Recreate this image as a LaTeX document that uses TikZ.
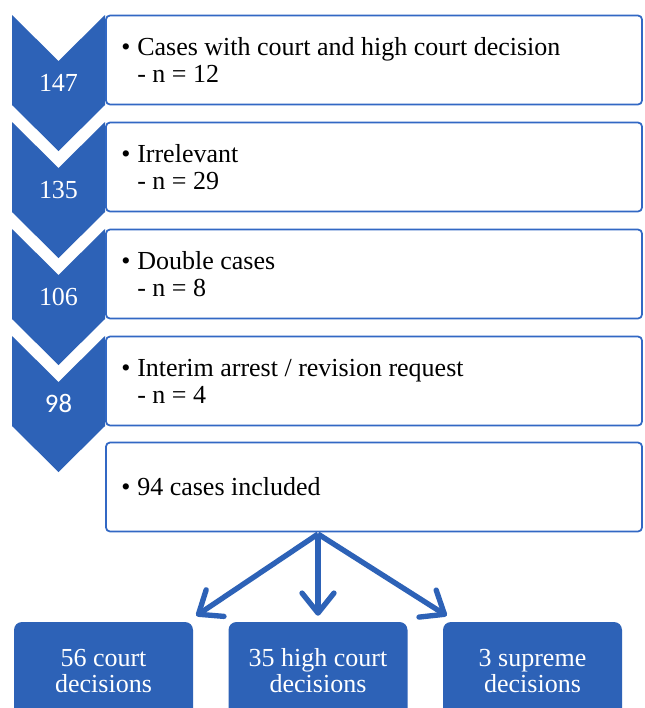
\documentclass[tikz,border=0pt]{standalone}
\usepackage{fontspec}
\setmainfont{Liberation Serif}
\newfontfamily\numsans{Carlito}
\usetikzlibrary{arrows.meta}
\definecolor{cblue}{RGB}{45,98,183}
\definecolor{bline}{RGB}{50,104,196}
\begin{document}
\begin{tikzpicture}[x=0.75pt,y=-0.75pt,
  listbox/.style={draw=bline, line width=1.3pt, rounded corners=3pt, minimum width=402pt, minimum height=66.75pt, inner sep=0pt},
  itemtext/.style={anchor=west, align=left, inner sep=0pt, font=\fontsize{19.5}{20.25}\selectfont},
  chev/.style={fill=cblue},
  numtxt/.style={text=white, inner sep=0pt, font=\fontsize{19.5}{20}\selectfont},
  decbox/.style={fill=cblue, text=white, rounded corners=6pt, minimum width=134.25pt, minimum height=73.5pt, align=center, inner sep=0pt, font=\fontsize{19.5}{19.5}\selectfont},
  arr/.style={draw=cblue, line width=4pt, line join=round, -{Straight Barb[length=15pt,width=24pt,line join=round,line cap=round]}}
]
\clip (0,0) rectangle (644,708);
\fill[white] (0,0) rectangle (644,708);
% list boxes
\node[listbox] (b1) at (374,60) {};
\node[listbox] (b2) at (374,167) {};
\node[listbox] (b3) at (374,274) {};
\node[listbox] (b4) at (374,381) {};
\node[listbox] (b5) at (374,487) {};
\node[itemtext] (t1) at (121,60) {\makebox[12pt][l]{•}Cases with court and high court decision\\\hspace*{12pt}- n = 12};
\node[itemtext] (t2) at (121,167) {\makebox[12pt][l]{•}Irrelevant\\\hspace*{12pt}- n = 29};
\node[itemtext] (t3) at (121,274) {\makebox[12pt][l]{•}Double cases\\\hspace*{12pt}- n = 8};
\node[itemtext] (t4) at (121,381) {\makebox[12pt][l]{•}Interim arrest / revision request\\\hspace*{12pt}- n = 4};
\node[itemtext] (t5) at (121,487) {\makebox[12pt][l]{•}94 cases included};
% chevrons
\path[chev] (12,15) -- (58.5,61) -- (105,15) -- (105,105) -- (58.5,151) -- (12,105) -- cycle;
\path[chev] (12,122) -- (58.5,168) -- (105,122) -- (105,212) -- (58.5,258) -- (12,212) -- cycle;
\path[chev] (12,229) -- (58.5,275) -- (105,229) -- (105,319) -- (58.5,365) -- (12,319) -- cycle;
\path[chev] (12,336) -- (58.5,382) -- (105,336) -- (105,426) -- (58.5,472) -- (12,426) -- cycle;
\node[numtxt] (n1) at (58.5,83) {147};
\node[numtxt] (n2) at (58.5,190) {135};
\node[numtxt] (n3) at (58.5,297) {106};
\node[numtxt, font=\numsans\fontsize{20}{20}\selectfont] (n4) at (58.5,403) {98};
% decisions
\node[decbox] (d1) at (103.5,671) {56 court\\decisions};
\node[decbox] (d2) at (318,671) {35 high court\\decisions};
\node[decbox] (d3) at (532.5,671) {3 supreme\\decisions};
% arrows
\coordinate (src) at (318,534);
\draw[arr] (src) -- ([shift={(3,-6)}]d1.north east);
\draw[arr] (src) -- ([shift={(0,-6)}]d2.north);
\draw[arr] (src) -- ([shift={(4,-6)}]d3.north west);
\end{tikzpicture}
\end{document}
